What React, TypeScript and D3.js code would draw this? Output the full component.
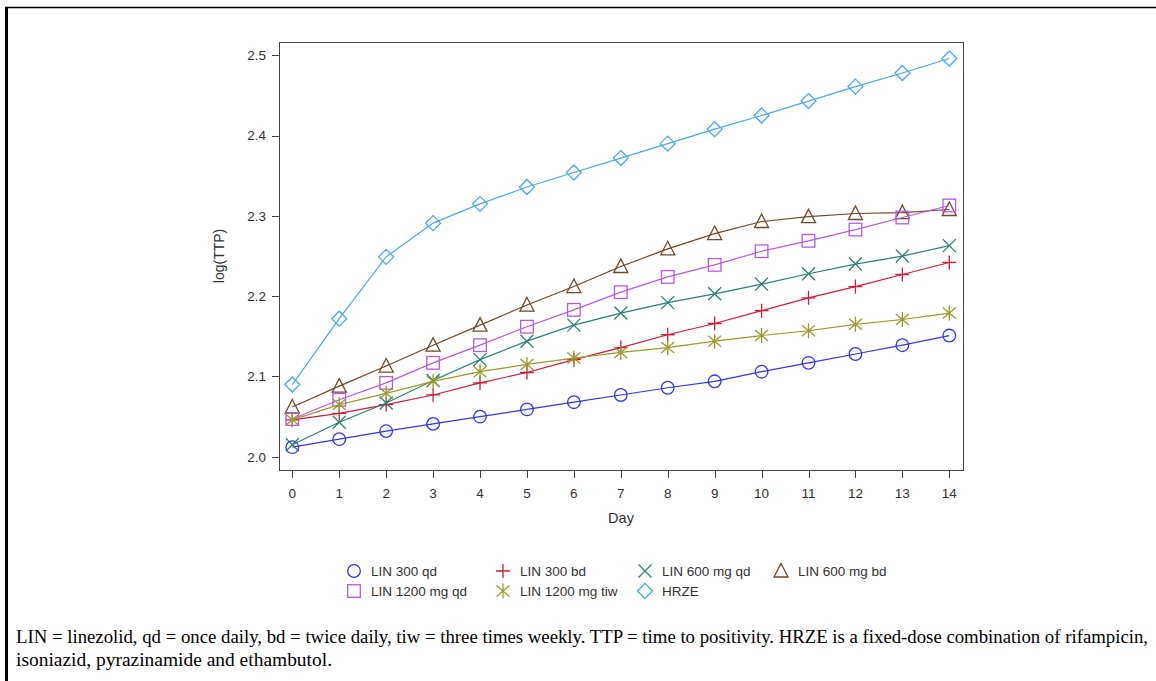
import React from "react";
import * as d3 from "d3";

const days = [0, 1, 2, 3, 4, 5, 6, 7, 8, 9, 10, 11, 12, 13, 14];
const lin300qd = [2.012, 2.022, 2.032, 2.041, 2.050, 2.059, 2.068, 2.077, 2.086, 2.094, 2.106, 2.117, 2.128, 2.139, 2.151];
const lin300bd = [2.046, 2.054, 2.065, 2.077, 2.092, 2.105, 2.121, 2.136, 2.152, 2.166, 2.182, 2.198, 2.212, 2.227, 2.242];
const lin600qd = [2.015, 2.043, 2.067, 2.095, 2.121, 2.144, 2.164, 2.179, 2.192, 2.203, 2.215, 2.228, 2.240, 2.250, 2.263];
const lin600bd = [2.062, 2.088, 2.113, 2.139, 2.164, 2.189, 2.212, 2.237, 2.259, 2.278, 2.293, 2.299, 2.303, 2.304, 2.308];
const lin1200qd = [2.047, 2.071, 2.092, 2.117, 2.139, 2.162, 2.183, 2.205, 2.224, 2.239, 2.256, 2.269, 2.283, 2.298, 2.313];
const lin1200tiw = [2.046, 2.065, 2.079, 2.094, 2.106, 2.115, 2.123, 2.130, 2.136, 2.144, 2.151, 2.157, 2.165, 2.171, 2.179];
const hrze = [2.090, 2.172, 2.249, 2.291, 2.315, 2.336, 2.354, 2.372, 2.390, 2.408, 2.425, 2.443, 2.461, 2.478, 2.496];

const yTicks = [2.0, 2.1, 2.2, 2.3, 2.4, 2.5];
const seriesNames = ["LIN 300 qd", "LIN 300 bd", "LIN 600 mg qd", "LIN 600 mg bd", "LIN 1200 mg qd", "LIN 1200 mg tiw", "HRZE"];
const seriesValues = [lin300qd, lin300bd, lin600qd, lin600bd, lin1200qd, lin1200tiw, hrze];
const seriesColors = ["#3535f0", "#d01c3c", "#2a8075", "#6e4a2a", "#b55ae6", "#9a9a2e", "#4aa8f5"];
const seriesMarkers = ["circle", "plus", "x", "triangle", "square", "star", "diamond"];

const caption1 = "LIN = linezolid, qd = once daily, bd = twice daily, tiw = three times weekly. TTP = time to positivity. HRZE is a fixed-dose combination of rifampicin,";
const caption2 = "isoniazid, pyrazinamide and ethambutol.";

function Marker({ type, x, y, color }: { type: string; x: number; y: number; color: string }) {
  const common = { fill: "none", stroke: color, strokeWidth: 1.3 };
  switch (type) {
    case "circle":
      return <circle cx={x} cy={y} r={6.3} {...common} />;
    case "square":
      return <rect x={x - 6.3} y={y - 6.3} width={12.6} height={12.6} {...common} />;
    case "diamond":
      return <path d={`M${x},${y - 7.5}L${x + 7.5},${y}L${x},${y + 7.5}L${x - 7.5},${y}Z`} {...common} />;
    case "triangle":
      return <path d={`M${x},${y - 7.5}L${x + 7},${y + 6}L${x - 7},${y + 6}Z`} {...common} />;
    case "plus":
      return <path d={`M${x - 7},${y}L${x + 7},${y}M${x},${y - 7}L${x},${y + 7}`} {...common} />;
    case "x":
      return <path d={`M${x - 6.5},${y - 6.5}L${x + 6.5},${y + 6.5}M${x - 6.5},${y + 6.5}L${x + 6.5},${y - 6.5}`} {...common} />;
    case "star":
      return (
        <path
          d={`M${x},${y - 7.5}L${x},${y + 7.5}M${x - 6.5},${y - 5.5}L${x + 6.5},${y + 5.5}M${x - 6.5},${y + 5.5}L${x + 6.5},${y - 5.5}`}
          {...common}
        />
      );
    default:
      return null;
  }
}

export default function App() {
  const W = 1156, H = 681;
  const left = 279, right = 963, top = 42, bottom = 470;
  const x = d3.scaleLinear().domain([0, 14]).range([292.3, 949.3]);
  const y = d3.scaleLinear().domain([2.0, 2.5]).range([456.8, 55.3]);
  const line = d3.line<number>().x((_, i) => x(days[i])).y((v) => y(v));
  const axisColor = "#333";
  const font = "'Liberation Sans', Arial, sans-serif";

  const legendCols = [354, 503, 645, 781];
  const legendRows = [571, 591];
  const serif = "'Liberation Serif', 'Times New Roman', serif";

  return (
    <svg width={W} height={H} style={{ position: "absolute", left: 0, top: 0 }} fontFamily={font}>
      <rect x={0} y={0} width={W} height={H} fill="#fff" />
      {/* outer page border */}
      <line x1={5} y1={7.5} x2={W} y2={7.5} stroke="#000" strokeWidth={1.5} />
      <line x1={6.5} y1={7} x2={6.5} y2={H} stroke="#000" strokeWidth={3} />

      {/* plot frame */}
      <rect x={left + 0.5} y={top + 0.5} width={right - left} height={bottom - top} fill="none" stroke="#444" strokeWidth={1} />

      {/* y axis */}
      {yTicks.map((t) => (
        <g key={t}>
          <line x1={left - 7} x2={left} y1={Math.round(y(t)) + 0.5} y2={Math.round(y(t)) + 0.5} stroke="#444" />
          <text x={left - 13} y={y(t)} dy="0.35em" textAnchor="end" fontSize={13.5} fill={axisColor}>
            {t.toFixed(1)}
          </text>
        </g>
      ))}
      <text transform={`translate(224,${(top + bottom) / 2}) rotate(-90)`} textAnchor="middle" fontSize={14} fill={axisColor}>
        log(TTP)
      </text>

      {/* x axis */}
      {x.ticks(14).map((t) => (
        <g key={t}>
          <line x1={Math.round(x(t)) + 0.5} x2={Math.round(x(t)) + 0.5} y1={bottom} y2={bottom + 8} stroke="#444" />
          <text x={x(t)} y={493} dy="0.35em" textAnchor="middle" fontSize={13.5} fill={axisColor}>
            {t}
          </text>
        </g>
      ))}
      <text x={(left + right) / 2} y={518} dy="0.35em" textAnchor="middle" fontSize={14.5} fill={axisColor}>
        Day
      </text>

      {/* series */}
      {seriesValues.map((vals, si) => (
        <g key={si}>
          <path d={line(vals) || ""} fill="none" stroke={seriesColors[si]} strokeWidth={1.2} />
          {vals.map((v, i) => (
            <Marker key={i} type={seriesMarkers[si]} x={x(days[i])} y={y(v)} color={seriesColors[si]} />
          ))}
        </g>
      ))}

      {/* legend */}
      {seriesNames.map((name, i) => {
        const cx = legendCols[i % 4];
        const cy = legendRows[Math.floor(i / 4)];
        return (
          <g key={name}>
            <Marker type={seriesMarkers[i]} x={cx} y={cy} color={seriesColors[i]} />
            <text x={cx + 17} y={cy} dy="0.35em" fontSize={13.5} fill={axisColor}>
              {name}
            </text>
          </g>
        );
      })}

      {/* caption */}
      <text x={16} y={643} fontFamily={serif} fontSize={18} fill="#000" textLength={1132} lengthAdjust="spacingAndGlyphs">
        {caption1}
      </text>
      <text x={16} y={666} fontFamily={serif} fontSize={18} fill="#000" textLength={316} lengthAdjust="spacingAndGlyphs">
        {caption2}
      </text>
    </svg>
  );
}
